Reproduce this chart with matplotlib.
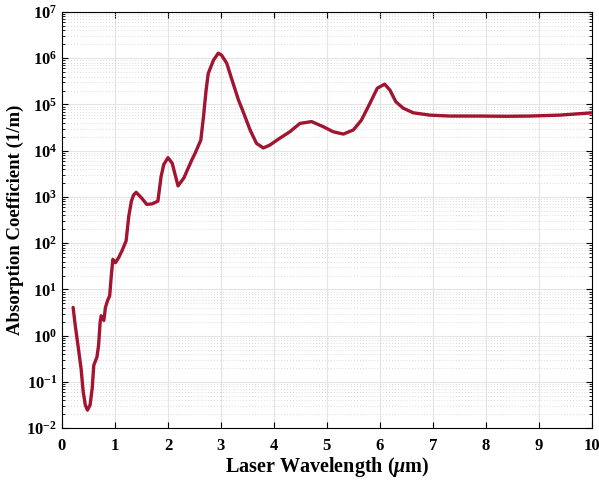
import matplotlib
matplotlib.use("Agg")
import matplotlib.pyplot as plt
import matplotlib.ticker as mticker
import numpy as np

# Absorption coefficient of water vs laser wavelength
wavelength_um = [0.21, 0.25, 0.31, 0.36, 0.40, 0.44, 0.48, 0.53, 0.57, 0.60,
                 0.66, 0.69, 0.72, 0.74, 0.79, 0.82, 0.86, 0.90, 0.93, 0.96,
                 1.01, 1.07, 1.13, 1.21, 1.26, 1.31, 1.35, 1.40, 1.50, 1.60,
                 1.70, 1.81, 1.87, 1.92, 2.00, 2.08, 2.19, 2.30, 2.45, 2.51,
                 2.62, 2.67, 2.72, 2.76, 2.86, 2.95, 3.01, 3.11, 3.22, 3.33,
                 3.42, 3.55, 3.67, 3.80, 3.92, 4.11, 4.30, 4.49, 4.71, 4.93,
                 5.12, 5.31, 5.50, 5.65, 5.81, 5.95, 6.09, 6.19, 6.30, 6.44,
                 6.63, 6.94, 7.32, 7.89, 8.40, 8.83, 9.40, 10.0]
log_alpha = [0.61, 0.22, -0.28, -0.71, -1.21, -1.50, -1.61, -1.50, -1.14, -0.64,
             -0.46, -0.21, 0.29, 0.43, 0.33, 0.61, 0.76, 0.86, 1.29, 1.65,
             1.58, 1.69, 1.83, 2.05, 2.58, 2.91, 3.04, 3.10, 2.98, 2.84,
             2.85, 2.91, 3.44, 3.70, 3.85, 3.73, 3.24, 3.41, 3.80, 3.94,
             4.23, 4.73, 5.31, 5.67, 5.96, 6.11, 6.07, 5.89, 5.49, 5.10,
             4.84, 4.45, 4.16, 4.06, 4.12, 4.27, 4.41, 4.59, 4.63, 4.52,
             4.41, 4.36, 4.45, 4.66, 5.02, 5.35, 5.44, 5.31, 5.06, 4.92,
             4.82, 4.77, 4.75, 4.75, 4.745, 4.75, 4.77, 4.82]
alpha = 10.0 ** np.array(log_alpha)

plt.rcParams["font.family"] = "Liberation Serif"
plt.rcParams["font.weight"] = "bold"
plt.rcParams["mathtext.fontset"] = "custom"
plt.rcParams["mathtext.rm"] = "Liberation Serif:bold"
plt.rcParams["mathtext.it"] = "Liberation Serif:italic:bold"
plt.rcParams["mathtext.bf"] = "Liberation Serif:bold"

fig = plt.figure(figsize=(5.99, 4.8), dpi=100)
ax = fig.add_axes([0.1035, 0.108, 0.8845, 0.867])

ax.plot(wavelength_um, alpha, color="#a2142f", lw=2.4, zorder=3,
        solid_joinstyle="round", solid_capstyle="round")

ax.set_yscale("log")
ax.set_xlim(0, 10)
ax.set_ylim(1e-2, 1e7)
ax.set_xticks(np.arange(0, 11, 1))
ax.yaxis.set_major_locator(mticker.LogLocator(base=10, numticks=20))
ax.yaxis.set_minor_locator(mticker.LogLocator(base=10, subs=np.arange(2, 10), numticks=20))
ax.yaxis.set_minor_formatter(mticker.NullFormatter())

# grid MATLAB-like
ax.grid(True, which="major", color="#e4e4e4", lw=0.8, zorder=0)
ax.grid(True, which="minor", axis="y", color="#cfcfcf", lw=0.6, ls=(0, (1, 2.5)), zorder=0)

ax.tick_params(which="both", direction="in", top=True, right=True, labelsize=12)
ax.tick_params(which="major", length=4, width=0.8)
ax.tick_params(axis="x", which="major", pad=7)
ax.tick_params(which="minor", length=2, width=0.6)
for lab in ax.get_xticklabels() + ax.get_yticklabels():
    lab.set_fontweight("bold")
for spine in ax.spines.values():
    spine.set_linewidth(0.8)

ax.set_xlabel(r"Laser Wavelength ($\mu$m)", fontsize=14.5, fontweight="bold", labelpad=1)
ax.set_ylabel("Absorption Coefficient (1/m)", fontsize=13.5, fontweight="bold", labelpad=2)

fig.savefig("out.png", dpi=100)
